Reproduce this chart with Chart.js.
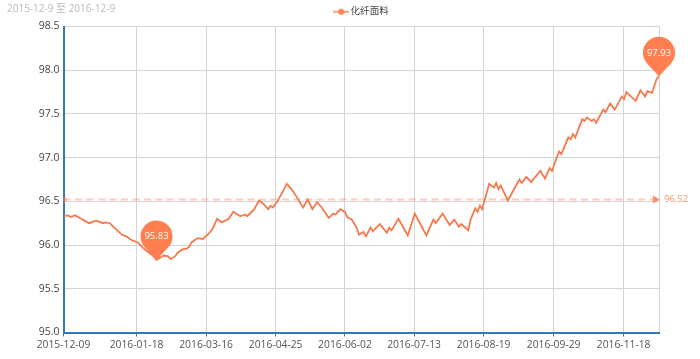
<!DOCTYPE html>
<html>
<head>
<meta charset="utf-8">
<script src="https://cdn.jsdelivr.net/npm/chart.js@4"></script>
<style>
  body { margin: 0; background: #fff; }
  canvas { display: block; }
</style>
</head>
<body>
<canvas id="myChart" width="700" height="359"></canvas>
<script>
var FONT = '"Open Sans", "Noto Sans CJK SC", sans-serif';

var subtitle = "2015-12-9 至 2016-12-9";
var seriesName = "化纤面料";
var tickIndex = [0, 31.4, 61.3, 91.2, 121, 150.7, 180.6, 210.7, 240.8, 256];
var tickLabels = ["2015-12-09", "2016-01-18", "2016-03-16", "2016-04-25", "2016-06-02", "2016-07-13", "2016-08-19", "2016-09-29", "2016-11-18", ""];

// trade day position of each turning point
var dayIndex = [
  0, 2, 3, 5, 7, 9, 11, 13, 14, 16, 17, 18, 20, 21, 23, 25, 27, 29, 32, 34, 36, 38, 40,
  43, 45, 46, 48, 49, 51, 53, 54, 55, 57, 58, 60, 61, 62, 64, 65, 66, 68, 71, 73, 76, 78, 79,
  82, 84, 86, 88, 89, 90, 92, 94, 96, 98, 100, 103, 105, 107, 109, 111, 114, 116, 117, 119, 121,
  122, 124, 126, 127, 129, 130, 132, 133, 136, 139, 140, 141, 144, 148, 151, 156, 159, 160, 163,
  166, 168, 170, 171, 174, 175, 177, 178, 179, 180, 183, 185, 186, 187, 188, 191, 196, 197, 199,
  201, 205, 207, 209, 210, 213, 214, 217, 218, 219, 220, 223, 224, 225, 227, 228, 229, 232, 233,
  235, 237, 240, 241, 242, 246, 248, 250, 251, 253, 255, 256
];
var values = [
  96.33, 96.34, 96.32, 96.34, 96.31, 96.28, 96.25, 96.27, 96.28, 96.26, 96.25, 96.26, 96.25, 96.22, 96.17, 96.12, 96.10, 96.06, 96.03, 95.97, 95.93, 95.89, 95.83,
  95.88, 95.87, 95.84, 95.87, 95.91, 95.95, 95.96, 95.98, 96.03, 96.07, 96.08, 96.07, 96.10, 96.12, 96.18, 96.24, 96.30, 96.26, 96.30, 96.38, 96.33, 96.35, 96.33,
  96.41, 96.51, 96.47, 96.41, 96.45, 96.43, 96.50, 96.60, 96.70, 96.64, 96.56, 96.43, 96.52, 96.41, 96.49, 96.43, 96.31, 96.36, 96.35, 96.41, 96.38,
  96.32, 96.29, 96.20, 96.12, 96.15, 96.10, 96.20, 96.16, 96.24, 96.14, 96.20, 96.17, 96.30, 96.11, 96.36, 96.11, 96.29, 96.25, 96.36,
  96.23, 96.29, 96.21, 96.24, 96.17, 96.29, 96.42, 96.38, 96.45, 96.41, 96.70, 96.66, 96.71, 96.64, 96.68, 96.51, 96.75, 96.71, 96.78,
  96.72, 96.85, 96.76, 96.88, 96.85, 97.07, 97.04, 97.23, 97.21, 97.27, 97.23, 97.44, 97.42, 97.46, 97.42, 97.44, 97.40, 97.55, 97.52,
  97.62, 97.55, 97.70, 97.67, 97.75, 97.65, 97.77, 97.70, 97.76, 97.74, 97.90, 97.93
];
var averageValue = 96.52;
var pinDays = [40, 256];

var points = dayIndex.map(function (d, i) {
  return { x: d, y: values[i] };
});

// small line + dot used as legend symbol
var legendMark = document.createElement("canvas");
legendMark.width = 16;
legendMark.height = 10;
var lm = legendMark.getContext("2d");
lm.strokeStyle = "#ff7f50";
lm.fillStyle = "#ff7f50";
lm.lineWidth = 1.5;
lm.beginPath();
lm.moveTo(0, 5);
lm.lineTo(16, 5);
lm.stroke();
lm.beginPath();
lm.arc(8, 5, 3, 0, Math.PI * 2);
lm.fill();

// markers, average line end and the subtitle
var decorations = {
  id: "decorations",
  afterLayout: function (chart) {
    chart.legend.left += 33;
    chart.legend.right += 33;
  },
  beforeDatasetsDraw: function (chart) {
    var c = chart.ctx;
    c.save();
    c.fillStyle = "#bbb";
    c.font = "10px " + FONT;
    c.textAlign = "left";
    c.textBaseline = "middle";
    c.fillText(subtitle, 7, 9.5);
    c.restore();
  },
  afterDatasetsDraw: function (chart) {
    var c = chart.ctx,
      xs = chart.scales.x,
      ys = chart.scales.y;

    // arrow + label of the average line
    var ax = xs.getPixelForValue(256),
      ay = ys.getPixelForValue(averageValue);
    c.save();
    c.fillStyle = "#fb8f63";
    c.beginPath();
    c.moveTo(ax + 1, ay);
    c.lineTo(ax - 6, ay - 4);
    c.lineTo(ax - 6, ay + 4);
    c.closePath();
    c.fill();
    c.font = "9.5px " + FONT;
    c.textAlign = "left";
    c.textBaseline = "middle";
    c.fillText(averageValue.toFixed(2), ax + 5, ay);

    // pins
    pinDays.forEach(function (d) {
      var v = values[dayIndex.indexOf(d)],
        tipX = xs.getPixelForValue(d),
        tipY = ys.getPixelForValue(v),
        r = 16,
        cy = tipY - 23.5,
        t = Math.acos(r / 23.5);
      c.fillStyle = "#ff7f50";
      c.beginPath();
      c.arc(tipX, cy, r, Math.PI / 2 + t, Math.PI / 2 - t + Math.PI * 2);
      c.lineTo(tipX, tipY);
      c.closePath();
      c.fill();
      c.fillStyle = "#fff";
      c.font = "9.5px " + FONT;
      c.textAlign = "center";
      c.textBaseline = "middle";
      c.fillText(v.toFixed(2), tipX, cy);
    });
    c.restore();
  },
};

var ctx = document.getElementById("myChart").getContext("2d");
var myChart = new Chart(ctx, {
  type: "line",
  plugins: [decorations],
  data: {
    datasets: [
      {
        label: seriesName,
        data: points,
        borderColor: "#f5794c",
        backgroundColor: "#ff7f50",
        borderWidth: 1.8,
        pointRadius: 0,
        tension: 0,
        pointStyle: legendMark,
      },
      {
        label: "average",
        data: [
          { x: 0, y: averageValue },
          { x: 256, y: averageValue },
        ],
        borderColor: "rgba(255, 127, 80, 0.4)",
        backgroundColor: "rgba(255, 127, 80, 0.5)",
        borderWidth: 2,
        borderDash: [7, 4.5],
        pointRadius: [3, 0],
        pointBorderWidth: 0,
      },
    ],
  },
  options: {
    responsive: false,
    animation: false,
    layout: {
      padding: { left: 0, right: 41, top: 2, bottom: 0 },
    },
    scales: {
      x: {
        type: "linear",
        min: 0,
        max: 256,
        afterBuildTicks: function (scale) {
          scale.ticks = tickIndex.map(function (v) {
            return { value: v };
          });
        },
        afterFit: function (scale) {
          scale.height = 26.5;
        },
        grid: {
          color: "#d4d4d4",
          tickColor: function (c) {
            return c.tick && c.tick.value === 256 ? "rgba(0,0,0,0)" : "#337ab7";
          },
          tickLength: 4,
        },
        border: { color: "#337ab7", width: 2 },
        ticks: {
          autoSkip: false,
          maxRotation: 0,
          padding: 2,
          color: "#555",
          font: { family: FONT, size: 10.3 },
          callback: function (value) {
            return tickLabels[tickIndex.indexOf(value)];
          },
        },
      },
      y: {
        min: 95,
        max: 98.5,
        afterFit: function (scale) {
          scale.width = 63.5;
        },
        grid: { color: "#d4d4d4", drawTicks: false },
        border: { color: "#337ab7", width: 2 },
        ticks: {
          stepSize: 0.5,
          padding: 4,
          color: "#444",
          font: { family: FONT, size: 10.5 },
          callback: function (value) {
            return value.toFixed(1);
          },
        },
      },
    },
    plugins: {
      legend: {
        display: true,
        position: "top",
        labels: {
          usePointStyle: true,
          color: "#444",
          font: { family: FONT, size: 9.5 },
          padding: 5,
          filter: function (item) {
            return item.text === seriesName;
          },
        },
      },
      tooltip: { enabled: false },
    },
  },
});
</script>
</body>
</html>
